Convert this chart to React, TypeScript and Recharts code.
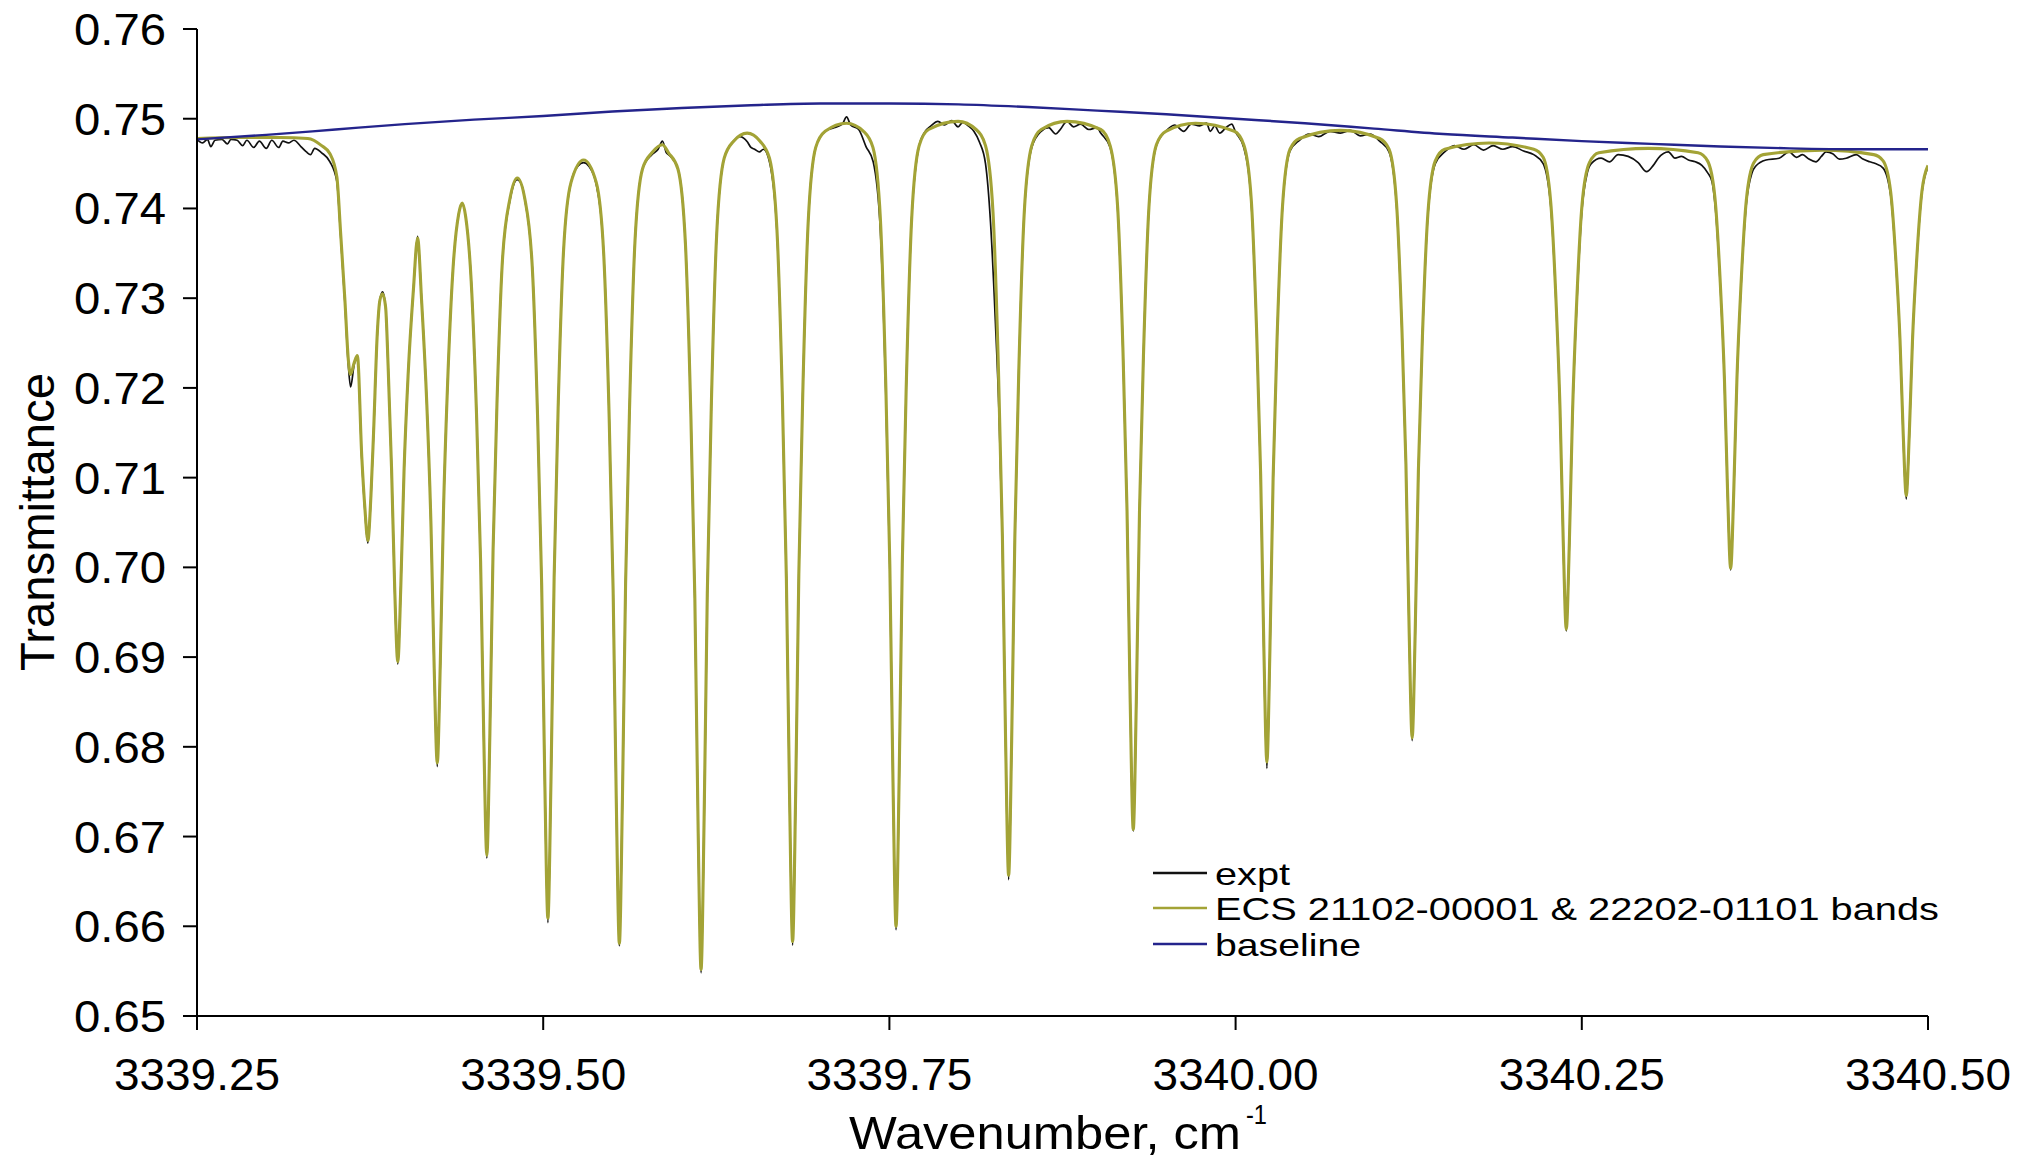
import React from 'react';
import { LineChart, Line, XAxis, YAxis } from 'recharts';

const W = 2026;
const H = 1159;
const FONT = '"Liberation Sans", Arial, Helvetica, sans-serif';

const PLOT_LEFT = 197;
const PLOT_TOP = 29;
const PLOT_RIGHT = 1928;
const PLOT_BOTTOM = 1016;

const xTicks = [3339.25, 3339.5, 3339.75, 3340.0, 3340.25, 3340.5];
const yTicks = [0.65, 0.66, 0.67, 0.68, 0.69, 0.7, 0.71, 0.72, 0.73, 0.74, 0.75, 0.76];

const seriesNames = ['expt', 'ECS 21102-00001 & 22202-01101 bands', 'baseline'];
const seriesColors = ['#111111', '#A3A336', '#24248C'];

// [wavenumber, transmittance]
const expt: number[][] = [
  [3339.2500,0.7477],[3339.2540,0.7473],[3339.2575,0.7477],[3339.2600,0.7469],[3339.2630,0.7476],[3339.2680,0.7477],
  [3339.2720,0.7472],[3339.2745,0.7477],[3339.2790,0.7476],[3339.2830,0.7470],[3339.2860,0.7476],[3339.2910,0.7468],
  [3339.2950,0.7475],[3339.3000,0.7467],[3339.3040,0.7476],[3339.3090,0.7468],[3339.3120,0.7475],[3339.3160,0.7473],
  [3339.3200,0.7476],[3339.3250,0.7469],[3339.3290,0.7463],[3339.3320,0.7460],[3339.3350,0.7467],[3339.3400,0.7462],
  [3339.3460,0.7452],[3339.3510,0.7430],[3339.3537,0.7370],[3339.3568,0.7295],[3339.3593,0.7225],[3339.3609,0.7201],
  [3339.3635,0.7226],[3339.3658,0.7235],[3339.3690,0.7121],[3339.3712,0.7064],[3339.3734,0.7027],[3339.3756,0.7078],
  [3339.3775,0.7149],[3339.3802,0.7260],[3339.3821,0.7298],[3339.3840,0.7307],[3339.3862,0.7290],[3339.3880,0.7225],
  [3339.3905,0.7110],[3339.3928,0.6973],[3339.3950,0.6892],[3339.3972,0.6980],[3339.3995,0.7107],[3339.4025,0.7216],
  [3339.4063,0.7310],[3339.4093,0.7369],[3339.4122,0.7297],[3339.4160,0.7180],[3339.4190,0.7044],[3339.4213,0.6884],
  [3339.4235,0.6778],[3339.4257,0.6892],[3339.4280,0.7063],[3339.4310,0.7206],[3339.4348,0.7331],[3339.4390,0.7394],
  [3339.4416,0.7405],[3339.4440,0.7391],[3339.4480,0.7319],[3339.4518,0.7173],[3339.4548,0.7006],[3339.4571,0.6808],
  [3339.4593,0.6676],[3339.4615,0.6813],[3339.4638,0.7019],[3339.4668,0.7192],[3339.4706,0.7343],[3339.4760,0.7409],
  [3339.4813,0.7432],[3339.4850,0.7424],[3339.4867,0.7410],[3339.4921,0.7335],[3339.4959,0.7170],[3339.4989,0.6979],
  [3339.5012,0.6755],[3339.5034,0.6604],[3339.5056,0.6758],[3339.5079,0.6989],[3339.5109,0.7184],[3339.5147,0.7353],
  [3339.5201,0.7429],[3339.5250,0.7447],[3339.5292,0.7451],[3339.5330,0.7447],[3339.5383,0.7427],[3339.5437,0.7349],
  [3339.5475,0.7175],[3339.5505,0.6973],[3339.5528,0.6736],[3339.5550,0.6578],[3339.5572,0.6740],[3339.5595,0.6982],
  [3339.5625,0.7186],[3339.5663,0.7364],[3339.5717,0.7444],[3339.5785,0.7460],[3339.5830,0.7466],[3339.5861,0.7475],
  [3339.5890,0.7462],[3339.5905,0.7460],[3339.5973,0.7444],[3339.6027,0.7361],[3339.6065,0.7177],[3339.6095,0.6965],
  [3339.6118,0.6714],[3339.6140,0.6548],[3339.6162,0.6718],[3339.6185,0.6971],[3339.6215,0.7186],[3339.6253,0.7372],
  [3339.6307,0.7456],[3339.6375,0.7475],[3339.6420,0.7480],[3339.6475,0.7474],[3339.6500,0.7468],[3339.6527,0.7466],
  [3339.6561,0.7463],[3339.6590,0.7466],[3339.6634,0.7452],[3339.6688,0.7374],[3339.6726,0.7195],[3339.6756,0.6987],
  [3339.6779,0.6743],[3339.6801,0.6579],[3339.6823,0.6745],[3339.6846,0.6993],[3339.6876,0.7203],[3339.6914,0.7386],
  [3339.6968,0.7468],[3339.7036,0.7486],[3339.7100,0.7490],[3339.7160,0.7494],[3339.7191,0.7502],[3339.7220,0.7493],
  [3339.7278,0.7488],[3339.7331,0.7469],[3339.7383,0.7452],[3339.7435,0.7375],[3339.7473,0.7200],[3339.7503,0.6998],
  [3339.7526,0.6758],[3339.7548,0.6596],[3339.7570,0.6759],[3339.7593,0.7004],[3339.7623,0.7210],[3339.7661,0.7389],
  [3339.7715,0.7470],[3339.7760,0.7486],[3339.7800,0.7492],[3339.7850,0.7497],[3339.7900,0.7493],[3339.7950,0.7498],
  [3339.7996,0.7491],[3339.8030,0.7496],[3339.8070,0.7492],[3339.8110,0.7486],[3339.8150,0.7474],[3339.8194,0.7450],
  [3339.8230,0.7385],[3339.8265,0.7275],[3339.8292,0.7170],[3339.8316,0.7030],[3339.8339,0.6806],[3339.8361,0.6652],
  [3339.8383,0.6806],[3339.8406,0.7035],[3339.8436,0.7228],[3339.8474,0.7396],[3339.8528,0.7468],[3339.8596,0.7486],
  [3339.8650,0.7490],[3339.8700,0.7483],[3339.8729,0.7487],[3339.8783,0.7497],[3339.8830,0.7491],[3339.8880,0.7494],
  [3339.8940,0.7488],[3339.9000,0.7490],[3339.9026,0.7484],[3339.9094,0.7468],[3339.9148,0.7400],[3339.9186,0.7245],
  [3339.9216,0.7063],[3339.9239,0.6848],[3339.9261,0.6706],[3339.9283,0.6849],[3339.9306,0.7062],[3339.9336,0.7243],
  [3339.9374,0.7401],[3339.9428,0.7470],[3339.9496,0.7486],[3339.9560,0.7493],[3339.9625,0.7486],[3339.9680,0.7494],
  [3339.9740,0.7492],[3339.9790,0.7495],[3339.9817,0.7486],[3339.9850,0.7492],[3339.9885,0.7484],[3339.9930,0.7490],
  [3339.9972,0.7494],[3340.0000,0.7485],[3340.0059,0.7468],[3340.0113,0.7407],[3340.0151,0.7265],[3340.0181,0.7101],
  [3340.0204,0.6906],[3340.0226,0.6776],[3340.0248,0.6905],[3340.0271,0.7098],[3340.0301,0.7262],[3340.0339,0.7402],
  [3340.0393,0.7464],[3340.0461,0.7476],[3340.0530,0.7483],[3340.0600,0.7480],[3340.0680,0.7486],[3340.0757,0.7484],
  [3340.0830,0.7487],[3340.0900,0.7481],[3340.0970,0.7483],[3340.1040,0.7475],[3340.1108,0.7463],[3340.1162,0.7404],
  [3340.1200,0.7269],[3340.1230,0.7114],[3340.1253,0.6930],[3340.1275,0.6807],[3340.1297,0.6927],[3340.1320,0.7107],
  [3340.1350,0.7260],[3340.1388,0.7391],[3340.1442,0.7450],[3340.1510,0.7463],[3340.1580,0.7470],[3340.1650,0.7466],
  [3340.1720,0.7471],[3340.1790,0.7465],[3340.1860,0.7470],[3340.1930,0.7466],[3340.2000,0.7469],[3340.2080,0.7464],
  [3340.2153,0.7460],[3340.2221,0.7450],[3340.2275,0.7404],[3340.2313,0.7298],[3340.2343,0.7173],[3340.2366,0.7027],
  [3340.2388,0.6929],[3340.2410,0.7025],[3340.2433,0.7170],[3340.2463,0.7290],[3340.2501,0.7398],[3340.2540,0.7440],
  [3340.2568,0.7450],[3340.2640,0.7456],[3340.2700,0.7452],[3340.2762,0.7460],[3340.2835,0.7458],[3340.2907,0.7451],
  [3340.2968,0.7441],[3340.3016,0.7448],[3340.3052,0.7456],[3340.3125,0.7463],[3340.3173,0.7456],[3340.3220,0.7458],
  [3340.3270,0.7454],[3340.3320,0.7452],[3340.3367,0.7448],[3340.3408,0.7440],[3340.3440,0.7430],[3340.3462,0.7405],
  [3340.3500,0.7314],[3340.3530,0.7208],[3340.3553,0.7081],[3340.3575,0.6997],[3340.3597,0.7081],[3340.3620,0.7207],
  [3340.3650,0.7314],[3340.3688,0.7405],[3340.3730,0.7440],[3340.3755,0.7447],[3340.3830,0.7454],[3340.3925,0.7456],
  [3340.3997,0.7463],[3340.4050,0.7457],[3340.4094,0.7460],[3340.4140,0.7455],[3340.4191,0.7452],[3340.4230,0.7458],
  [3340.4264,0.7463],[3340.4312,0.7461],[3340.4360,0.7455],[3340.4409,0.7456],[3340.4482,0.7460],[3340.4530,0.7455],
  [3340.4579,0.7452],[3340.4620,0.7450],[3340.4676,0.7445],[3340.4730,0.7415],[3340.4768,0.7340],[3340.4798,0.7251],
  [3340.4821,0.7146],[3340.4843,0.7076],[3340.4865,0.7147],[3340.4888,0.7252],[3340.4918,0.7341],[3340.4956,0.7417],
  [3340.5000,0.7446],
];

const model: number[][] = [
  [3339.2500,0.7478],[3339.2800,0.7479],[3339.3100,0.7479],[3339.3300,0.7478],[3339.3400,0.7470],[3339.3460,0.7461],
  [3339.3510,0.7435],[3339.3537,0.7373],[3339.3568,0.7298],[3339.3593,0.7231],[3339.3609,0.7215],[3339.3635,0.7228],
  [3339.3658,0.7236],[3339.3690,0.7123],[3339.3712,0.7067],[3339.3734,0.7030],[3339.3756,0.7080],[3339.3775,0.7150],
  [3339.3802,0.7261],[3339.3821,0.7298],[3339.3840,0.7305],[3339.3862,0.7290],[3339.3880,0.7225],[3339.3905,0.7110],
  [3339.3928,0.6975],[3339.3950,0.6895],[3339.3972,0.6980],[3339.3995,0.7107],[3339.4025,0.7216],[3339.4063,0.7310],
  [3339.4093,0.7367],[3339.4122,0.7297],[3339.4160,0.7180],[3339.4190,0.7045],[3339.4213,0.6887],[3339.4235,0.6782],
  [3339.4257,0.6894],[3339.4280,0.7063],[3339.4310,0.7206],[3339.4348,0.7331],[3339.4390,0.7394],[3339.4416,0.7406],
  [3339.4440,0.7391],[3339.4480,0.7319],[3339.4518,0.7173],[3339.4548,0.7006],[3339.4571,0.6810],[3339.4593,0.6679],
  [3339.4615,0.6815],[3339.4638,0.7019],[3339.4668,0.7192],[3339.4706,0.7343],[3339.4760,0.7411],[3339.4813,0.7434],
  [3339.4867,0.7411],[3339.4921,0.7335],[3339.4959,0.7170],[3339.4989,0.6980],[3339.5012,0.6758],[3339.5034,0.6609],
  [3339.5056,0.6761],[3339.5079,0.6989],[3339.5109,0.7184],[3339.5147,0.7353],[3339.5201,0.7429],[3339.5292,0.7454],
  [3339.5383,0.7429],[3339.5437,0.7349],[3339.5475,0.7175],[3339.5505,0.6974],[3339.5528,0.6738],[3339.5550,0.6581],
  [3339.5572,0.6741],[3339.5595,0.6982],[3339.5625,0.7186],[3339.5663,0.7364],[3339.5717,0.7444],[3339.5785,0.7462],
  [3339.5861,0.7471],[3339.5905,0.7462],[3339.5973,0.7444],[3339.6027,0.7361],[3339.6065,0.7177],[3339.6095,0.6966],
  [3339.6118,0.6717],[3339.6140,0.6552],[3339.6162,0.6720],[3339.6185,0.6971],[3339.6215,0.7186],[3339.6253,0.7372],
  [3339.6307,0.7456],[3339.6375,0.7475],[3339.6473,0.7484],[3339.6566,0.7475],[3339.6634,0.7456],[3339.6688,0.7376],
  [3339.6726,0.7196],[3339.6756,0.6988],[3339.6779,0.6745],[3339.6801,0.6583],[3339.6823,0.6747],[3339.6846,0.6993],
  [3339.6876,0.7203],[3339.6914,0.7386],[3339.6968,0.7468],[3339.7036,0.7486],[3339.7191,0.7495],[3339.7313,0.7486],
  [3339.7381,0.7468],[3339.7435,0.7388],[3339.7473,0.7209],[3339.7503,0.7003],[3339.7526,0.6761],[3339.7548,0.6600],
  [3339.7570,0.6761],[3339.7593,0.7004],[3339.7623,0.7210],[3339.7661,0.7389],[3339.7715,0.7470],[3339.7783,0.7488],
  [3339.7996,0.7497],[3339.8126,0.7488],[3339.8194,0.7470],[3339.8248,0.7396],[3339.8286,0.7228],[3339.8316,0.7035],
  [3339.8339,0.6808],[3339.8361,0.6657],[3339.8383,0.6808],[3339.8406,0.7035],[3339.8436,0.7228],[3339.8474,0.7396],
  [3339.8528,0.7470],[3339.8596,0.7488],[3339.8783,0.7497],[3339.9026,0.7488],[3339.9094,0.7470],[3339.9148,0.7402],
  [3339.9186,0.7245],[3339.9216,0.7063],[3339.9239,0.6850],[3339.9261,0.6708],[3339.9283,0.6850],[3339.9306,0.7062],
  [3339.9336,0.7243],[3339.9374,0.7401],[3339.9428,0.7471],[3339.9496,0.7486],[3339.9711,0.7495],[3339.9991,0.7486],
  [3340.0059,0.7471],[3340.0113,0.7410],[3340.0151,0.7267],[3340.0181,0.7103],[3340.0204,0.6911],[3340.0226,0.6783],
  [3340.0248,0.6910],[3340.0271,0.7100],[3340.0301,0.7262],[3340.0339,0.7403],[3340.0393,0.7466],[3340.0461,0.7478],
  [3340.0757,0.7487],[3340.1040,0.7478],[3340.1108,0.7466],[3340.1162,0.7406],[3340.1200,0.7270],[3340.1230,0.7115],
  [3340.1253,0.6932],[3340.1275,0.6810],[3340.1297,0.6929],[3340.1320,0.7108],[3340.1350,0.7261],[3340.1388,0.7393],
  [3340.1442,0.7453],[3340.1510,0.7466],[3340.1830,0.7473],[3340.2153,0.7466],[3340.2221,0.7457],[3340.2275,0.7408],
  [3340.2313,0.7300],[3340.2343,0.7175],[3340.2366,0.7029],[3340.2388,0.6931],[3340.2410,0.7027],[3340.2433,0.7172],
  [3340.2463,0.7295],[3340.2501,0.7403],[3340.2555,0.7451],[3340.2623,0.7462],[3340.2980,0.7467],[3340.3340,0.7462],
  [3340.3408,0.7453],[3340.3462,0.7411],[3340.3500,0.7317],[3340.3530,0.7210],[3340.3553,0.7083],[3340.3575,0.6999],
  [3340.3597,0.7083],[3340.3620,0.7209],[3340.3650,0.7316],[3340.3688,0.7409],[3340.3742,0.7451],[3340.3810,0.7460],
  [3340.4239,0.7465],[3340.4608,0.7460],[3340.4676,0.7453],[3340.4730,0.7419],[3340.4768,0.7342],[3340.4798,0.7253],
  [3340.4821,0.7149],[3340.4843,0.7080],[3340.4865,0.7149],[3340.4888,0.7253],[3340.4918,0.7342],[3340.4956,0.7419],
  [3340.5000,0.7448],
];

const baseline: number[][] = [
  [3339.25,0.7477],[3339.30,0.7482],[3339.35,0.7488],[3339.40,0.7494],[3339.45,0.7499],[3339.50,0.7503],
  [3339.55,0.7508],[3339.60,0.7512],[3339.65,0.7515],[3339.70,0.7517],[3339.75,0.7517],[3339.80,0.7516],
  [3339.85,0.7513],[3339.90,0.7509],[3339.95,0.7505],[3340.00,0.7500],[3340.05,0.7495],[3340.10,0.7489],
  [3340.15,0.7483],[3340.20,0.7479],[3340.25,0.7475],[3340.30,0.7472],[3340.35,0.7469],[3340.40,0.7467],
  [3340.45,0.7466],[3340.50,0.7466],
];

const toRows = (pts: number[][]) => pts.map(([x, y]) => ({ x, y }));

const XTick = (props: any) => {
  const { x, payload } = props;
  return (
    <text x={x} y={PLOT_BOTTOM + 74} textAnchor="middle" fontFamily={FONT} fontSize={45}
      textLength={166} lengthAdjust="spacingAndGlyphs" fill="#000">
      {Number(payload.value).toFixed(2)}
    </text>
  );
};

const YTick = (props: any) => {
  const { y, payload } = props;
  return (
    <text x={PLOT_LEFT - 31} y={y + 16} textAnchor="end" fontFamily={FONT} fontSize={45}
      textLength={92} lengthAdjust="spacingAndGlyphs" fill="#000">
      {Number(payload.value).toFixed(2)}
    </text>
  );
};

const legendRows = [
  { lineY: 873, textY: 885, len: 75 },
  { lineY: 908, textY: 920, len: 724 },
  { lineY: 944, textY: 956, len: 146 },
];

export default function App() {
  return (
    <div style={{ position: 'fixed', left: 0, top: 0, width: W, height: H, background: '#fff' }}>
      <LineChart width={W} height={H} margin={{ top: PLOT_TOP, right: W - PLOT_RIGHT, bottom: 0, left: 0 }}>
        <XAxis type="number" dataKey="x" domain={[3339.25, 3340.5]} ticks={xTicks} interval={0}
          allowDataOverflow height={H - PLOT_BOTTOM} tickSize={14}
          axisLine={{ stroke: '#000', strokeWidth: 2 }} tickLine={{ stroke: '#000', strokeWidth: 2 }}
          tick={<XTick />} />
        <YAxis type="number" dataKey="y" domain={[0.65, 0.76]} ticks={yTicks} interval={0}
          allowDataOverflow width={PLOT_LEFT} tickSize={14}
          axisLine={{ stroke: '#000', strokeWidth: 2 }} tickLine={{ stroke: '#000', strokeWidth: 2 }}
          tick={<YTick />} />
        <Line data={toRows(expt)} dataKey="y" type="monotone" stroke={seriesColors[0]} strokeWidth={1.7}
          dot={false} activeDot={false} isAnimationActive={false} />
        <Line data={toRows(model)} dataKey="y" type="monotone" stroke={seriesColors[1]} strokeWidth={3.1}
          dot={false} activeDot={false} isAnimationActive={false} />
        <Line data={toRows(baseline)} dataKey="y" type="monotone" stroke={seriesColors[2]} strokeWidth={2.4}
          dot={false} activeDot={false} isAnimationActive={false} />
      </LineChart>
      <svg width={W} height={H} style={{ position: 'absolute', left: 0, top: 0, pointerEvents: 'none' }}>
        <text transform="translate(54,522) rotate(-90)" textAnchor="middle" fontFamily={FONT} fontSize={48}
          textLength={298} lengthAdjust="spacingAndGlyphs" fill="#000">Transmittance</text>
        <text x={849} y={1149} fontFamily={FONT} fontSize={46} textLength={392}
          lengthAdjust="spacingAndGlyphs" fill="#000">Wavenumber, cm</text>
        <text x={1246} y={1124} fontFamily={FONT} fontSize={27} textLength={21}
          lengthAdjust="spacingAndGlyphs" fill="#000">-1</text>
        {legendRows.map((r, i) => (
          <g key={i}>
            <line x1={1153} x2={1207} y1={r.lineY} y2={r.lineY} stroke={seriesColors[i]} strokeWidth={2.4} />
            <text x={1215} y={r.textY} fontFamily={FONT} fontSize={32} textLength={r.len}
              lengthAdjust="spacingAndGlyphs" fill="#000">{seriesNames[i]}</text>
          </g>
        ))}
      </svg>
    </div>
  );
}
